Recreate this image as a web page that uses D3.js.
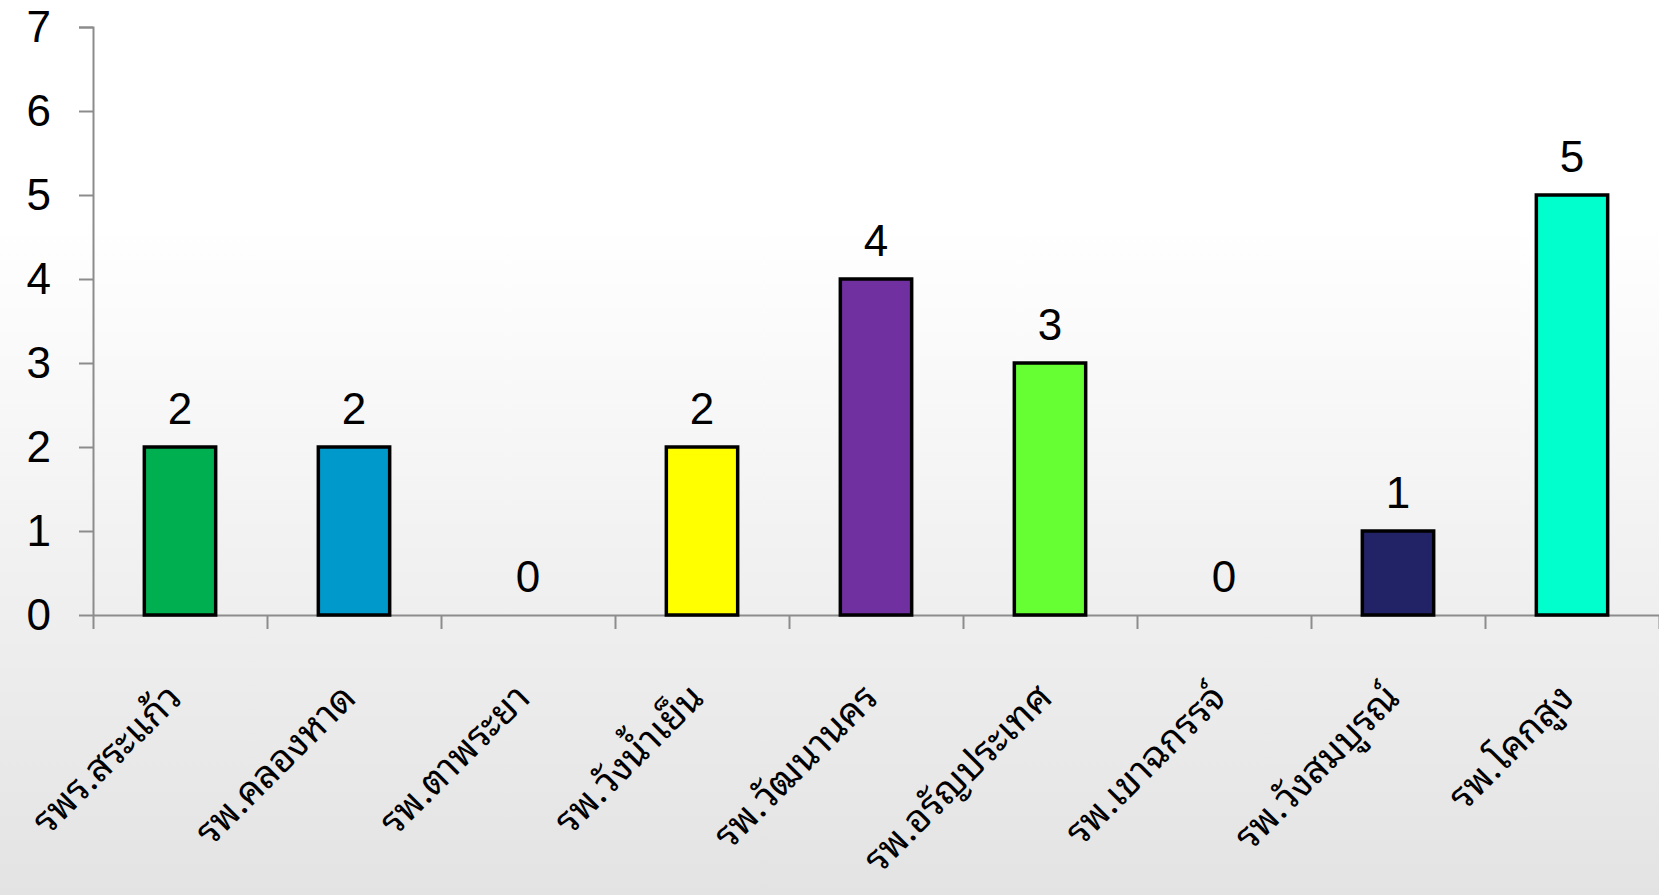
<!DOCTYPE html>
<html><head><meta charset="utf-8">
<script src="https://cdn.jsdelivr.net/npm/d3@7"></script>
<style>html,body{margin:0;padding:0;overflow:hidden;}</style>
</head><body>
<svg id="c" width="1659" height="895"></svg>
<script>
const categories = ["รพร.สระแก้ว","รพ.คลองหาด","รพ.ตาพระยา","รพ.วังน้ำเย็น","รพ.วัฒนานคร","รพ.อรัญประเทศ","รพ.เขาฉกรรจ์","รพ.วังสมบูรณ์","รพ.โคกสูง"];
const values = [2,2,0,2,4,3,0,1,5];
const colors = ["#00b050","#0099cc","#cccccc","#ffff00","#7030a0","#66ff33","#cccccc","#222266","#00ffcc"];
const yTicks = [0,1,2,3,4,5,6,7];

const W=1659,H=895;
const svg=d3.select("#c");
const defs=svg.append("defs");
const g=defs.append("linearGradient").attr("id","bg").attr("x1",0).attr("y1",0).attr("x2",0).attr("y2",1);
g.append("stop").attr("offset","0%").attr("stop-color","#ffffff");
g.append("stop").attr("offset","25%").attr("stop-color","#ffffff");
g.append("stop").attr("offset","100%").attr("stop-color","#e3e3e3");
svg.append("rect").attr("width",W).attr("height",H).attr("fill","url(#bg)");

const x=d3.scaleBand().domain(categories).range([93,1659]).paddingInner(0.59).paddingOuter(0.295);
const y=d3.scaleLinear().domain([0,7]).range([615,27]);

const gy=svg.append("g").attr("transform","translate(93,0)")
 .call(d3.axisLeft(y).tickValues(yTicks).tickSize(14).tickPadding(28).tickFormat(d3.format("d")));
gy.select(".domain").attr("stroke","#8c8c8c").attr("stroke-width",2).attr("d","M-14,27.5H0.5V615.5");
gy.selectAll(".tick line").attr("stroke","#8c8c8c").attr("stroke-width",2);
gy.selectAll(".tick text").attr("font-family","'Liberation Sans',Arial,sans-serif").attr("font-size",44).attr("fill","#000");

const xb=d3.scaleLinear().domain([0,categories.length]).range([93,1659]);
svg.append("line").attr("x1",93).attr("x2",1659).attr("y1",615.5).attr("y2",615.5).attr("stroke","#8c8c8c").attr("stroke-width",2);
svg.selectAll(".xt").data(d3.range(categories.length+1)).join("line")
 .attr("x1",d=>xb(d)+0.5).attr("x2",d=>xb(d)+0.5).attr("y1",615).attr("y2",629)
 .attr("stroke","#8c8c8c").attr("stroke-width",2);

svg.selectAll(".bar").data(values).join("rect")
 .attr("x",(d,i)=>x(categories[i])).attr("width",x.bandwidth())
 .attr("y",d=>y(d)).attr("height",d=>y(0)-y(d))
 .attr("fill",(d,i)=>colors[i]).attr("stroke",d=>d>0?"#000":"none").attr("stroke-width",3.5)
 .attr("display",d=>d>0?null:"none");

svg.selectAll(".vl").data(values).join("text")
 .attr("x",(d,i)=>x(categories[i])+x.bandwidth()/2).attr("y",d=>y(d)-23)
 .attr("text-anchor","middle").attr("font-family","'Liberation Sans',Arial,sans-serif").attr("font-size",44).attr("fill","#000")
 .text(d=>d);

svg.selectAll(".cl").data(categories).join("text")
 .attr("transform",(d)=>`translate(${x(d)+x.bandwidth()/2+4},700) rotate(-45)`)
 .attr("text-anchor","end").attr("font-family","Tahoma,'Noto Sans Thai Looped','Noto Sans Thai',sans-serif").attr("font-size",38).attr("fill","#000")
 .text(d=>d);
</script>
</body></html>
